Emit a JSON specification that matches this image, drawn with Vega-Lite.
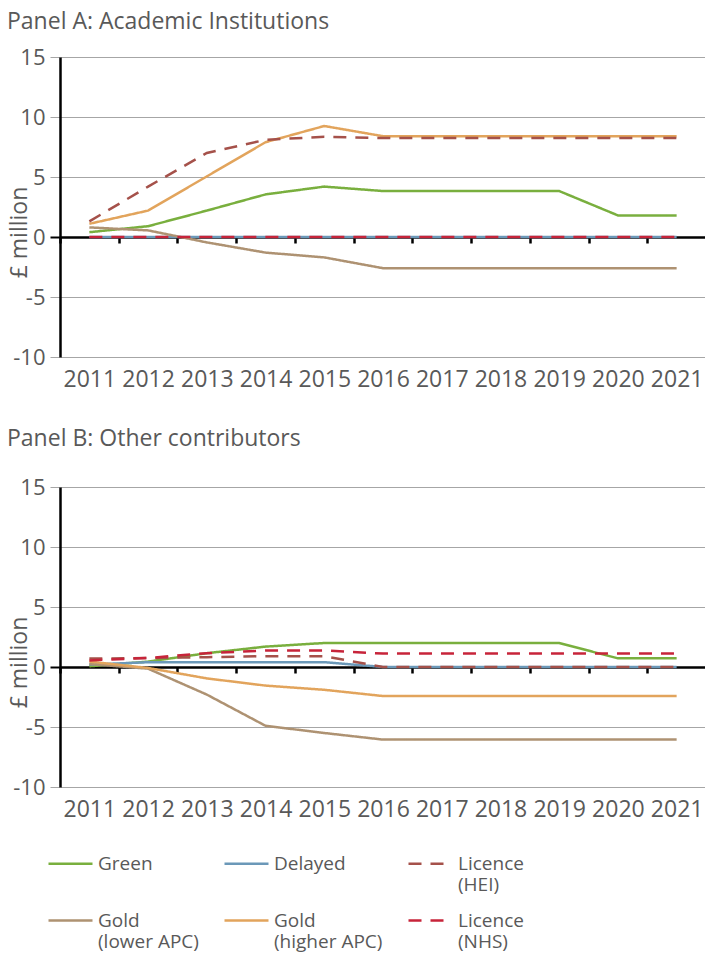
{
  "$schema": "https://vega.github.io/schema/vega-lite/v6.json",
  "background": "white",
  "padding": {"left": 7, "top": 11, "right": 0, "bottom": 0},
  "config": {
    "font": "Open Sans",
    "view": {"stroke": null},
    "title": {"fontSize": 23, "fontWeight": "normal", "color": "#595959", "anchor": "start", "frame": "bounds"},
    "axis": {"labelColor": "#595959", "titleColor": "#595959", "labelFont": "Open Sans", "titleFont": "Open Sans"}
  },
  "datasets": {
    "rows": [
      {"panel": "A", "series": "Green", "year": 2011, "value": 0.4},
      {"panel": "A", "series": "Green", "year": 2012, "value": 0.9},
      {"panel": "A", "series": "Green", "year": 2013, "value": 2.2},
      {"panel": "A", "series": "Green", "year": 2014, "value": 3.55},
      {"panel": "A", "series": "Green", "year": 2015, "value": 4.2},
      {"panel": "A", "series": "Green", "year": 2016, "value": 3.83},
      {"panel": "A", "series": "Green", "year": 2017, "value": 3.83},
      {"panel": "A", "series": "Green", "year": 2018, "value": 3.83},
      {"panel": "A", "series": "Green", "year": 2019, "value": 3.83},
      {"panel": "A", "series": "Green", "year": 2020, "value": 1.8},
      {"panel": "A", "series": "Green", "year": 2021, "value": 1.8},
      {"panel": "A", "series": "Delayed", "year": 2011, "value": 0},
      {"panel": "A", "series": "Delayed", "year": 2012, "value": 0},
      {"panel": "A", "series": "Delayed", "year": 2013, "value": 0},
      {"panel": "A", "series": "Delayed", "year": 2014, "value": 0},
      {"panel": "A", "series": "Delayed", "year": 2015, "value": 0},
      {"panel": "A", "series": "Delayed", "year": 2016, "value": 0},
      {"panel": "A", "series": "Delayed", "year": 2017, "value": 0},
      {"panel": "A", "series": "Delayed", "year": 2018, "value": 0},
      {"panel": "A", "series": "Delayed", "year": 2019, "value": 0},
      {"panel": "A", "series": "Delayed", "year": 2020, "value": 0},
      {"panel": "A", "series": "Delayed", "year": 2021, "value": 0},
      {"panel": "A", "series": "Gold (lower APC)", "year": 2011, "value": 0.8},
      {"panel": "A", "series": "Gold (lower APC)", "year": 2012, "value": 0.55},
      {"panel": "A", "series": "Gold (lower APC)", "year": 2013, "value": -0.45},
      {"panel": "A", "series": "Gold (lower APC)", "year": 2014, "value": -1.3},
      {"panel": "A", "series": "Gold (lower APC)", "year": 2015, "value": -1.7},
      {"panel": "A", "series": "Gold (lower APC)", "year": 2016, "value": -2.6},
      {"panel": "A", "series": "Gold (lower APC)", "year": 2017, "value": -2.6},
      {"panel": "A", "series": "Gold (lower APC)", "year": 2018, "value": -2.6},
      {"panel": "A", "series": "Gold (lower APC)", "year": 2019, "value": -2.6},
      {"panel": "A", "series": "Gold (lower APC)", "year": 2020, "value": -2.6},
      {"panel": "A", "series": "Gold (lower APC)", "year": 2021, "value": -2.6},
      {"panel": "A", "series": "Gold (higher APC)", "year": 2011, "value": 1.1},
      {"panel": "A", "series": "Gold (higher APC)", "year": 2012, "value": 2.2},
      {"panel": "A", "series": "Gold (higher APC)", "year": 2013, "value": 5.05},
      {"panel": "A", "series": "Gold (higher APC)", "year": 2014, "value": 7.9},
      {"panel": "A", "series": "Gold (higher APC)", "year": 2015, "value": 9.25},
      {"panel": "A", "series": "Gold (higher APC)", "year": 2016, "value": 8.4},
      {"panel": "A", "series": "Gold (higher APC)", "year": 2017, "value": 8.4},
      {"panel": "A", "series": "Gold (higher APC)", "year": 2018, "value": 8.4},
      {"panel": "A", "series": "Gold (higher APC)", "year": 2019, "value": 8.4},
      {"panel": "A", "series": "Gold (higher APC)", "year": 2020, "value": 8.4},
      {"panel": "A", "series": "Gold (higher APC)", "year": 2021, "value": 8.4},
      {"panel": "A", "series": "Licence (HEI)", "year": 2011, "value": 1.3},
      {"panel": "A", "series": "Licence (HEI)", "year": 2012, "value": 4.2},
      {"panel": "A", "series": "Licence (HEI)", "year": 2013, "value": 7.0},
      {"panel": "A", "series": "Licence (HEI)", "year": 2014, "value": 8.1},
      {"panel": "A", "series": "Licence (HEI)", "year": 2015, "value": 8.35},
      {"panel": "A", "series": "Licence (HEI)", "year": 2016, "value": 8.25},
      {"panel": "A", "series": "Licence (HEI)", "year": 2017, "value": 8.25},
      {"panel": "A", "series": "Licence (HEI)", "year": 2018, "value": 8.25},
      {"panel": "A", "series": "Licence (HEI)", "year": 2019, "value": 8.25},
      {"panel": "A", "series": "Licence (HEI)", "year": 2020, "value": 8.25},
      {"panel": "A", "series": "Licence (HEI)", "year": 2021, "value": 8.25},
      {"panel": "A", "series": "Licence (NHS)", "year": 2011, "value": 0},
      {"panel": "A", "series": "Licence (NHS)", "year": 2012, "value": 0},
      {"panel": "A", "series": "Licence (NHS)", "year": 2013, "value": 0},
      {"panel": "A", "series": "Licence (NHS)", "year": 2014, "value": 0},
      {"panel": "A", "series": "Licence (NHS)", "year": 2015, "value": 0},
      {"panel": "A", "series": "Licence (NHS)", "year": 2016, "value": 0},
      {"panel": "A", "series": "Licence (NHS)", "year": 2017, "value": 0},
      {"panel": "A", "series": "Licence (NHS)", "year": 2018, "value": 0},
      {"panel": "A", "series": "Licence (NHS)", "year": 2019, "value": 0},
      {"panel": "A", "series": "Licence (NHS)", "year": 2020, "value": 0},
      {"panel": "A", "series": "Licence (NHS)", "year": 2021, "value": 0},

      {"panel": "B", "series": "Green", "year": 2011, "value": 0.06},
      {"panel": "B", "series": "Green", "year": 2012, "value": 0.45},
      {"panel": "B", "series": "Green", "year": 2013, "value": 1.15},
      {"panel": "B", "series": "Green", "year": 2014, "value": 1.7},
      {"panel": "B", "series": "Green", "year": 2015, "value": 2.0},
      {"panel": "B", "series": "Green", "year": 2016, "value": 2.0},
      {"panel": "B", "series": "Green", "year": 2017, "value": 2.0},
      {"panel": "B", "series": "Green", "year": 2018, "value": 2.0},
      {"panel": "B", "series": "Green", "year": 2019, "value": 2.0},
      {"panel": "B", "series": "Green", "year": 2020, "value": 0.72},
      {"panel": "B", "series": "Green", "year": 2021, "value": 0.72},
      {"panel": "B", "series": "Delayed", "year": 2011, "value": 0.2},
      {"panel": "B", "series": "Delayed", "year": 2012, "value": 0.4},
      {"panel": "B", "series": "Delayed", "year": 2013, "value": 0.4},
      {"panel": "B", "series": "Delayed", "year": 2014, "value": 0.4},
      {"panel": "B", "series": "Delayed", "year": 2015, "value": 0.4},
      {"panel": "B", "series": "Delayed", "year": 2016, "value": 0},
      {"panel": "B", "series": "Delayed", "year": 2017, "value": 0},
      {"panel": "B", "series": "Delayed", "year": 2018, "value": 0},
      {"panel": "B", "series": "Delayed", "year": 2019, "value": 0},
      {"panel": "B", "series": "Delayed", "year": 2020, "value": 0},
      {"panel": "B", "series": "Delayed", "year": 2021, "value": 0},
      {"panel": "B", "series": "Gold (lower APC)", "year": 2011, "value": 0.25},
      {"panel": "B", "series": "Gold (lower APC)", "year": 2012, "value": -0.14},
      {"panel": "B", "series": "Gold (lower APC)", "year": 2013, "value": -2.3},
      {"panel": "B", "series": "Gold (lower APC)", "year": 2014, "value": -4.9},
      {"panel": "B", "series": "Gold (lower APC)", "year": 2015, "value": -5.5},
      {"panel": "B", "series": "Gold (lower APC)", "year": 2016, "value": -6.05},
      {"panel": "B", "series": "Gold (lower APC)", "year": 2017, "value": -6.05},
      {"panel": "B", "series": "Gold (lower APC)", "year": 2018, "value": -6.05},
      {"panel": "B", "series": "Gold (lower APC)", "year": 2019, "value": -6.05},
      {"panel": "B", "series": "Gold (lower APC)", "year": 2020, "value": -6.05},
      {"panel": "B", "series": "Gold (lower APC)", "year": 2021, "value": -6.05},
      {"panel": "B", "series": "Gold (higher APC)", "year": 2011, "value": 0.45},
      {"panel": "B", "series": "Gold (higher APC)", "year": 2012, "value": -0.08},
      {"panel": "B", "series": "Gold (higher APC)", "year": 2013, "value": -0.95},
      {"panel": "B", "series": "Gold (higher APC)", "year": 2014, "value": -1.55},
      {"panel": "B", "series": "Gold (higher APC)", "year": 2015, "value": -1.9},
      {"panel": "B", "series": "Gold (higher APC)", "year": 2016, "value": -2.42},
      {"panel": "B", "series": "Gold (higher APC)", "year": 2017, "value": -2.42},
      {"panel": "B", "series": "Gold (higher APC)", "year": 2018, "value": -2.42},
      {"panel": "B", "series": "Gold (higher APC)", "year": 2019, "value": -2.42},
      {"panel": "B", "series": "Gold (higher APC)", "year": 2020, "value": -2.42},
      {"panel": "B", "series": "Gold (higher APC)", "year": 2021, "value": -2.42},
      {"panel": "B", "series": "Licence (HEI)", "year": 2011, "value": 0.7},
      {"panel": "B", "series": "Licence (HEI)", "year": 2012, "value": 0.75},
      {"panel": "B", "series": "Licence (HEI)", "year": 2013, "value": 0.82},
      {"panel": "B", "series": "Licence (HEI)", "year": 2014, "value": 0.9},
      {"panel": "B", "series": "Licence (HEI)", "year": 2015, "value": 0.9},
      {"panel": "B", "series": "Licence (HEI)", "year": 2016, "value": 0},
      {"panel": "B", "series": "Licence (HEI)", "year": 2017, "value": 0},
      {"panel": "B", "series": "Licence (HEI)", "year": 2018, "value": 0},
      {"panel": "B", "series": "Licence (HEI)", "year": 2019, "value": 0},
      {"panel": "B", "series": "Licence (HEI)", "year": 2020, "value": 0},
      {"panel": "B", "series": "Licence (HEI)", "year": 2021, "value": 0},
      {"panel": "B", "series": "Licence (NHS)", "year": 2011, "value": 0.55},
      {"panel": "B", "series": "Licence (NHS)", "year": 2012, "value": 0.75},
      {"panel": "B", "series": "Licence (NHS)", "year": 2013, "value": 1.15},
      {"panel": "B", "series": "Licence (NHS)", "year": 2014, "value": 1.38},
      {"panel": "B", "series": "Licence (NHS)", "year": 2015, "value": 1.38},
      {"panel": "B", "series": "Licence (NHS)", "year": 2016, "value": 1.12},
      {"panel": "B", "series": "Licence (NHS)", "year": 2017, "value": 1.12},
      {"panel": "B", "series": "Licence (NHS)", "year": 2018, "value": 1.12},
      {"panel": "B", "series": "Licence (NHS)", "year": 2019, "value": 1.12},
      {"panel": "B", "series": "Licence (NHS)", "year": 2020, "value": 1.12},
      {"panel": "B", "series": "Licence (NHS)", "year": 2021, "value": 1.12}
    ]
  },
  "spacing": 37,
  "resolve": {"scale": {"color": "shared", "strokeDash": "shared"}},
  "vconcat": [
    {
      "title": {"text": "Panel A: Academic Institutions", "offset": 12, "dx": -1},
      "width": 646,
      "height": 300,
      "data": {"name": "rows"},
      "transform": [{"filter": "datum.panel === 'A'"}],
      "mark": {"type": "line", "strokeWidth": 2.5},
      "encoding": {
        "x": {
          "field": "year", "type": "ordinal", "bandPosition": 0.5,
          "scale": {"type": "band", "paddingInner": 0, "paddingOuter": 0},
          "axis": {"title": null, "offset": -120, "domainColor": "black", "domainWidth": 2, "tickBand": "extent", "tickColor": "black", "tickWidth": 2.5, "tickSize": 6, "labelPadding": 125, "labelFontSize": 23, "labelAngle": 0, "grid": false}
        },
        "y": {
          "field": "value", "type": "quantitative",
          "scale": {"domain": [-10, 15], "nice": false, "zero": false},
          "axis": {
            "values": [-10, -5, 0, 5, 10, 15], "title": "£ million", "grid": true,
            "labelExpr": "'' + datum.value",
            "gridColor": {"condition": {"test": "datum.value === 0", "value": "black"}, "value": "#A6A6A6"},
            "gridWidth": {"condition": {"test": "datum.value === 0", "value": 2}, "value": 1},
            "tickColor": {"condition": {"test": "datum.value === 0", "value": "black"}, "value": "#A6A6A6"},
            "tickWidth": {"condition": {"test": "datum.value === 0", "value": 2}, "value": 1},
            "domainColor": "black", "domainWidth": 2.5, "tickSize": 10, "labelPadding": 5, "labelFontSize": 22,
            "titleFontSize": 23, "titleFontWeight": "normal", "titleX": -34, "titleY": 175, "titleBaseline": "alphabetic"
          }
        },
        "color": {
          "field": "series", "type": "nominal",
          "scale": {"domain": ["Green", "Delayed", "Licence (HEI)", "Gold (lower APC)", "Gold (higher APC)", "Licence (NHS)"],
                    "range": ["#79AF3E", "#6B98B8", "#A5514A", "#AE9272", "#E2A45C", "#C7243A"]},
          "legend": {
            "title": null, "orient": "none", "legendX": -13, "legendY": 783, "columns": 3, "direction": "horizontal",
            "symbolType": "stroke", "symbolSize": 1936, "symbolStrokeWidth": 2.5, "labelFontSize": 19, "labelColor": "#595959",
            "labelFont": "Open Sans", "columnPadding": 20, "rowPadding": 2, "labelLimit": 300,
            "labelExpr": "indexof(datum.label, ' ') > 0 ? [substring(datum.label, 0, indexof(datum.label, ' ')), substring(datum.label, indexof(datum.label, ' ') + 1)] : [datum.label, ' ']"
          }
        },
        "strokeDash": {
          "field": "series", "type": "nominal",
          "scale": {"domain": ["Green", "Delayed", "Licence (HEI)", "Gold (lower APC)", "Gold (higher APC)", "Licence (NHS)"],
                    "range": [[1, 0], [1, 0], [13, 9], [1, 0], [1, 0], [13, 9]]},
          "legend": null
        }
      }
    },
    {
      "title": {"text": "Panel B: Other contributors", "offset": 25, "dx": -1},
      "width": 646,
      "height": 300,
      "data": {"name": "rows"},
      "transform": [{"filter": "datum.panel === 'B'"}],
      "mark": {"type": "line", "strokeWidth": 2.5},
      "encoding": {
        "x": {
          "field": "year", "type": "ordinal", "bandPosition": 0.5,
          "scale": {"type": "band", "paddingInner": 0, "paddingOuter": 0},
          "axis": {"title": null, "offset": -120, "domainColor": "black", "domainWidth": 2, "tickBand": "extent", "tickColor": "black", "tickWidth": 2.5, "tickSize": 6, "labelPadding": 125, "labelFontSize": 23, "labelAngle": 0, "grid": false}
        },
        "y": {
          "field": "value", "type": "quantitative",
          "scale": {"domain": [-10, 15], "nice": false, "zero": false},
          "axis": {
            "values": [-10, -5, 0, 5, 10, 15], "title": "£ million", "grid": true,
            "labelExpr": "'' + datum.value",
            "gridColor": {"condition": {"test": "datum.value === 0", "value": "black"}, "value": "#A6A6A6"},
            "gridWidth": {"condition": {"test": "datum.value === 0", "value": 2}, "value": 1},
            "tickColor": {"condition": {"test": "datum.value === 0", "value": "black"}, "value": "#A6A6A6"},
            "tickWidth": {"condition": {"test": "datum.value === 0", "value": 2}, "value": 1},
            "domainColor": "black", "domainWidth": 2.5, "tickSize": 10, "labelPadding": 5, "labelFontSize": 22,
            "titleFontSize": 23, "titleFontWeight": "normal", "titleX": -34, "titleY": 175, "titleBaseline": "alphabetic"
          }
        },
        "color": {"field": "series", "type": "nominal"},
        "strokeDash": {"field": "series", "type": "nominal", "legend": null}
      }
    }
  ]
}
